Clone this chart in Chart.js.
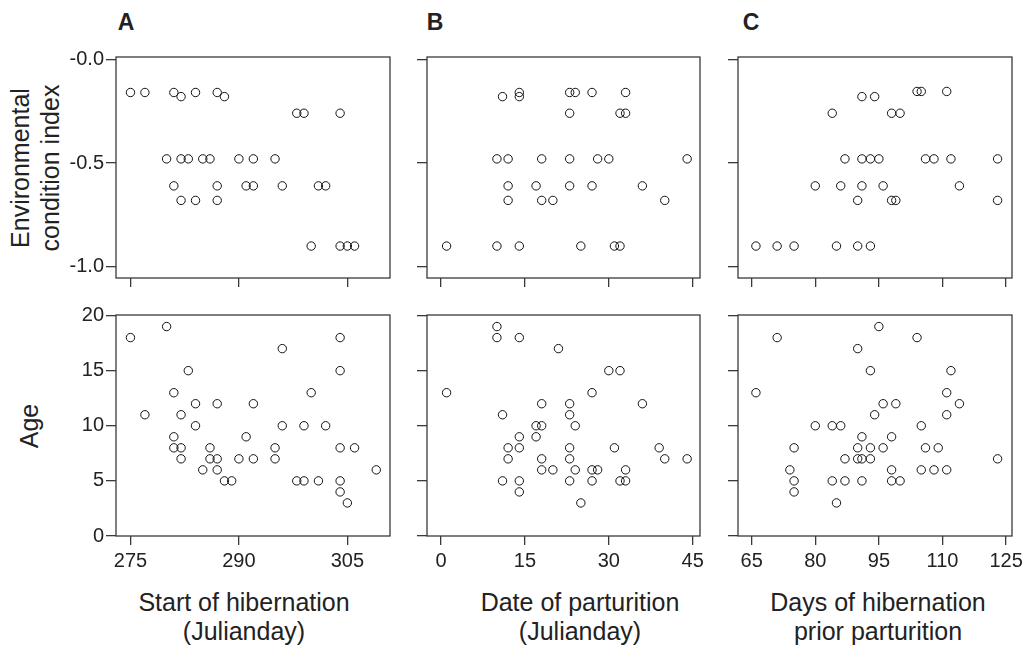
<!DOCTYPE html>
<html>
<head>
<meta charset="utf-8">
<script src="https://cdn.jsdelivr.net/npm/chart.js@4"></script>
<style>
body { margin:0; background:#fff; width:1024px; height:647px; position:relative; overflow:hidden;
       font-family:"Liberation Sans", Arial, sans-serif; color:#222; }
canvas { position:absolute; }
.t { position:absolute; font-size:25px; line-height:29px; text-align:center; white-space:nowrap; transform:translateX(-50%); }
.r { position:absolute; font-size:25px; line-height:30px; text-align:center; white-space:nowrap; transform:translate(-50%,-50%) rotate(-90deg); }
.p { position:absolute; font-size:23px; font-weight:bold; transform:translate(-50%,-50%); }
</style>
</head>
<body>
<div class="p" style="left:126px;top:22px">A</div>
<div class="p" style="left:435px;top:22px">B</div>
<div class="p" style="left:751px;top:22px">C</div>
<div class="r" style="left:35px;top:168px">Environmental<br>condition index</div>
<div class="r" style="left:29px;top:426px">Age</div>
<div class="t" style="left:244px;top:588px">Start of hibernation<br>(Julianday)</div>
<div class="t" style="left:580px;top:588px">Date of parturition<br>(Julianday)</div>
<div class="t" style="left:878px;top:588px">Days of hibernation<br>prior parturition</div>

<canvas id="a1"></canvas><canvas id="b1"></canvas><canvas id="c1"></canvas>
<canvas id="a2"></canvas><canvas id="b2"></canvas><canvas id="c2"></canvas>

<script>
// tick labels
const startTicks = [275, 290, 305];
const birthTicks = [0, 15, 30, 45];
const daysTicks = [65, 80, 95, 110, 125];
const envTicks = [0, -0.5, -1];
const ageTicks = [0, 5, 10, 15, 20];

// environmental condition index vs start of hibernation
const startEnvX = [275,277,281,284,287, 282,288, 298,299,304, 280,282,283,285,286,290,292,295,
                   281,287,291,292,296,301,302, 282,284,287, 300,304,305,306];
const startEnvY = [-0.16,-0.16,-0.16,-0.16,-0.16, -0.18,-0.18, -0.26,-0.26,-0.26,
                   -0.48,-0.48,-0.48,-0.48,-0.48,-0.48,-0.48,-0.48,
                   -0.61,-0.61,-0.61,-0.61,-0.61,-0.61,-0.61, -0.68,-0.68,-0.68, -0.90,-0.90,-0.90,-0.90];

// environmental condition index vs date of parturition
const birthEnvX = [14,23,24,27,33, 11,14, 23,32,33, 10,12,18,23,28,30,44,
                   12,17,23,27,36, 12,18,20,40, 1,10,14,25,31,32];
const birthEnvY = [-0.16,-0.16,-0.16,-0.16,-0.16, -0.18,-0.18, -0.26,-0.26,-0.26,
                   -0.48,-0.48,-0.48,-0.48,-0.48,-0.48,-0.48,
                   -0.61,-0.61,-0.61,-0.61,-0.61, -0.68,-0.68,-0.68,-0.68,
                   -0.90,-0.90,-0.90,-0.90,-0.90,-0.90];

// environmental condition index vs days of hibernation
const daysEnvX = [104,105,111, 91,94, 84,98,100, 87,91,93,95,106,108,112,123,
                  80,86,91,96,114, 90,98,99,123, 66,71,75,85,90,93];
const daysEnvY = [-0.155,-0.155,-0.155, -0.18,-0.18, -0.26,-0.26,-0.26,
                  -0.48,-0.48,-0.48,-0.48,-0.48,-0.48,-0.48,-0.48,
                  -0.61,-0.61,-0.61,-0.61,-0.61, -0.68,-0.68,-0.68,-0.68,
                  -0.90,-0.90,-0.90,-0.90,-0.90,-0.90];

// age vs start of hibernation
const startAgeX = [275,277,280,281,281,281,282,282,282,283,284,284,285,286,286,287,287,287,288,289,
                   290,291,292,292,295,295,296,296,298,299,299,300,301,302,304,304,304,304,304,305,306,309];
const startAgeY = [18,11,19,13,9,8,8,11,7,15,12,10,6,8,7,7,6,12,5,5,
                   7,9,7,12,8,7,17,10,5,5,10,13,5,10,18,15,8,5,4,3,8,6];

// age vs date of parturition
const birthAgeX = [10,10,14,21,30,32,1,27,18,23,36,11,23,17,18,24,14,17,12,14,23,31,39,
                   12,18,23,40,44,18,20,24,27,28,33,11,14,23,27,32,33,14,25];
const birthAgeY = [19,18,18,17,15,15,13,13,12,12,12,11,11,10,10,10,9,9,8,8,8,8,8,
                   7,7,7,7,7,6,6,6,6,6,6,5,5,5,5,5,5,4,3];

// age vs days of hibernation prior parturition
const daysAgeX = [95,71,104,90,93,112,66,111,96,99,114,94,111,80,84,86,105,91,98,
                  75,90,93,96,106,109,87,90,91,93,123,74,98,105,108,111,75,84,87,91,98,100,75,85];
const daysAgeY = [19,18,18,17,15,15,13,13,12,12,12,11,11,10,10,10,10,9,9,
                  8,8,8,8,8,8,7,7,7,7,7,6,6,6,6,6,5,5,5,5,5,5,4,3];

const YW = 60, PR = 12, PT = 10, XH = 40;
const tickFont = { family: '"Liberation Sans", Arial, sans-serif', size: 20 };

const frame = {
  id: 'frame',
  afterDraw(chart) {
    const a = chart.chartArea, c = chart.ctx;
    c.save();
    c.strokeStyle = '#3a3a3a';
    c.lineWidth = 1.3;
    c.strokeRect(a.left, a.top, a.right - a.left, a.bottom - a.top);
    c.restore();
  }
};

function envLabel(v) { return v === 0 ? '-0.0' : v.toFixed(1); }

function panel(id, box, xs, ys, xr, yr, xt, yt, showX, showY, yFmt) {
  const cv = document.getElementById(id);
  const w = box[2] - box[0] + YW + PR, h = box[3] - box[1] + PT + XH;
  cv.width = w; cv.height = h;
  cv.style.left = (box[0] - YW) + 'px';
  cv.style.top = (box[1] - PT) + 'px';
  new Chart(cv, {
    type: 'scatter',
    data: { datasets: [{
      data: xs.map((v, i) => ({ x: v, y: ys[i] })),
      pointRadius: 4.2, pointHoverRadius: 4.2, borderWidth: 1,
      borderColor: '#111', backgroundColor: 'rgba(0,0,0,0)'
    }]},
    options: {
      responsive: false, animation: false, events: [],
      layout: { padding: { left: 0, right: PR, top: PT, bottom: 0 } },
      plugins: { legend: { display: false }, tooltip: { enabled: false } },
      scales: {
        x: {
          type: 'linear', min: xr[0], max: xr[1],
          afterBuildTicks: s => { s.ticks = xt.map(v => ({ value: v })); },
          afterFit: s => { s.height = XH; s.paddingLeft = 0; s.paddingRight = 0; },
          border: { display: false },
          grid: { drawOnChartArea: false, tickLength: 9, color: '#3a3a3a', lineWidth: 1.3 },
          ticks: { callback: v => showX ? String(v) : '', font: tickFont, color: '#222',
                   padding: 4, maxRotation: 0, autoSkip: false }
        },
        y: {
          type: 'linear', min: yr[0], max: yr[1],
          afterBuildTicks: s => { s.ticks = yt.map(v => ({ value: v })); },
          afterFit: s => { s.width = YW; s.paddingTop = 0; s.paddingBottom = 0; },
          border: { display: false },
          grid: { drawOnChartArea: false, tickLength: 10, color: '#3a3a3a', lineWidth: 1.3 },
          ticks: { callback: v => showY ? yFmt(v) : '', font: tickFont, color: '#222',
                   padding: 2, autoSkip: false }
        }
      }
    },
    plugins: [frame]
  });
}

const topRow = [57, 278], botRow = [315, 536];
const envRange = [-1.054, 0.011], ageRange = [0, 20.05];

panel('a1', [116, topRow[0], 390, topRow[1]], startEnvX, startEnvY, [273, 310.9], envRange, startTicks, envTicks, false, true, envLabel);
panel('b1', [427, topRow[0], 700, topRow[1]], birthEnvX, birthEnvY, [-2.5, 46.3], envRange, birthTicks, envTicks, false, false, envLabel);
panel('c1', [738, topRow[0], 1012, topRow[1]], daysEnvX, daysEnvY, [61.77, 126.4], envRange, daysTicks, envTicks, false, false, envLabel);
panel('a2', [116, botRow[0], 390, botRow[1]], startAgeX, startAgeY, [273, 310.9], ageRange, startTicks, ageTicks, true, true, String);
panel('b2', [427, botRow[0], 700, botRow[1]], birthAgeX, birthAgeY, [-2.5, 46.3], ageRange, birthTicks, ageTicks, true, false, String);
panel('c2', [738, botRow[0], 1012, botRow[1]], daysAgeX, daysAgeY, [61.77, 126.4], ageRange, daysTicks, ageTicks, true, false, String);
</script>
</body>
</html>
